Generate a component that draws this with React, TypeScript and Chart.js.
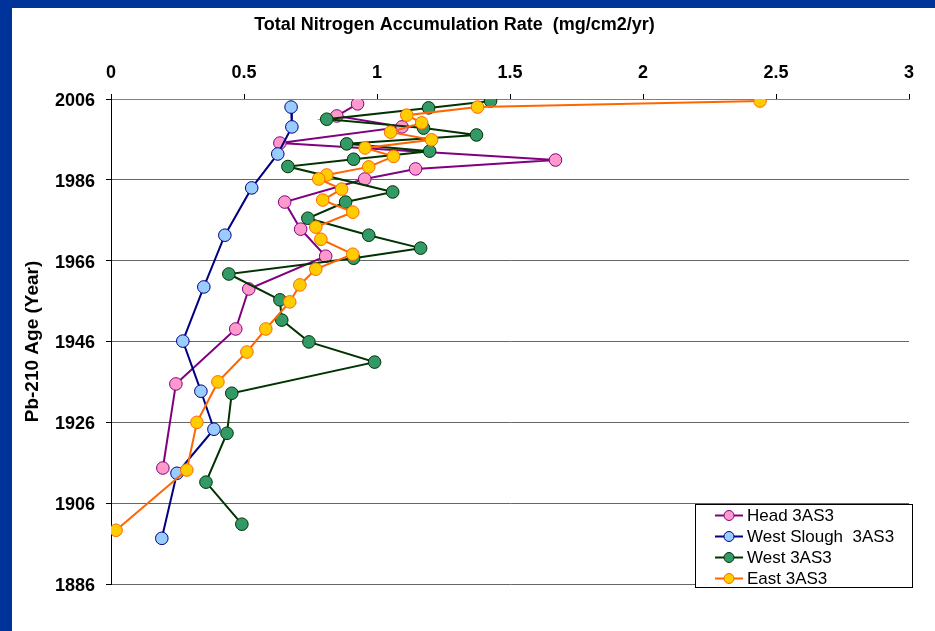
import React, { useEffect, useRef } from "react";
import { Chart, registerables } from "chart.js";

Chart.register(...registerables);

const chartTitle = "Total Nitrogen Accumulation Rate  (mg/cm2/yr)";
const yTitle = "Pb-210 Age (Year)";

const xTicks = [0, 0.5, 1, 1.5, 2, 2.5, 3];
const yTicks = [1886, 1906, 1926, 1946, 1966, 1986, 2006];

const seriesNames = ["Head 3AS3", "West Slough  3AS3", "West 3AS3", "East 3AS3"];

const headYears = [2004.8, 2001.8, 1999.1, 1995.1, 1990.9, 1988.7, 1986.2, 1980.5, 1973.8, 1967.1, 1959.0, 1949.1, 1935.5, 1914.7];
const headRates = [0.927, 0.849, 1.094, 0.635, 1.671, 1.145, 0.954, 0.653, 0.713, 0.807, 0.518, 0.469, 0.244, 0.195];

const sloughYears = [2004.0, 1999.1, 1992.4, 1984.0, 1972.3, 1959.5, 1946.1, 1933.7, 1924.3, 1913.4, 1897.3];
const sloughRates = [0.677, 0.68, 0.627, 0.529, 0.428, 0.349, 0.27, 0.338, 0.387, 0.248, 0.191];

const westYears = [2005.5, 2003.8, 2001.0, 1998.8, 1997.1, 1994.9, 1993.1, 1991.1, 1989.3, 1983.0, 1980.5, 1976.5, 1972.3, 1969.1, 1966.6, 1962.7, 1956.3, 1951.3, 1945.9, 1940.9, 1933.2, 1923.3, 1911.2, 1900.8];
const westRates = [1.427, 1.194, 0.811, 1.175, 1.374, 0.886, 1.198, 0.912, 0.665, 1.059, 0.882, 0.74, 0.969, 1.164, 0.912, 0.443, 0.635, 0.642, 0.744, 0.991, 0.454, 0.436, 0.357, 0.492];

const eastYears = [2005.5, 2004.0, 2002.0, 2000.1, 1997.8, 1995.9, 1993.9, 1991.8, 1989.2, 1987.2, 1986.2, 1983.7, 1981.0, 1978.0, 1974.3, 1971.3, 1967.6, 1963.9, 1960.0, 1955.8, 1949.1, 1943.4, 1936.0, 1926.0, 1914.2, 1899.3];
const eastRates = [2.44, 1.378, 1.112, 1.168, 1.051, 1.205, 0.955, 1.062, 0.969, 0.811, 0.781, 0.867, 0.796, 0.909, 0.77, 0.789, 0.909, 0.77, 0.71, 0.672, 0.582, 0.511, 0.402, 0.323, 0.285, 0.019];

const FONT = "'Liberation Sans', Arial, sans-serif";

const toPoints = (xs: number[], ys: number[]) => xs.map((x, i) => ({ x, y: ys[i] }));

const legendPlugin = {
  id: "boxLegend",
  afterDraw(chart: any) {
    const { ctx, chartArea } = chart;
    const left = chartArea.right - 214;
    const top = chartArea.bottom - 80;
    const w = 217;
    const h = 83;
    ctx.save();
    ctx.fillStyle = "#ffffff";
    ctx.fillRect(left, top, w, h);
    ctx.strokeStyle = "#000000";
    ctx.lineWidth = 1;
    ctx.strokeRect(left + 0.5, top + 0.5, w, h);
    ctx.font = `17px ${FONT}`;
    ctx.textBaseline = "middle";
    ctx.textAlign = "left";
    const dsList = chart.data.datasets;
    dsList.forEach((ds: any, i: number) => {
      const cy = top + 11.5 + i * 21;
      ctx.strokeStyle = ds.borderColor;
      ctx.lineWidth = 2;
      ctx.beginPath();
      ctx.moveTo(left + 20, cy);
      ctx.lineTo(left + 48, cy);
      ctx.stroke();
      ctx.beginPath();
      ctx.arc(left + 34, cy, 5, 0, Math.PI * 2);
      ctx.fillStyle = ds.pointBackgroundColor;
      ctx.fill();
      ctx.lineWidth = 1;
      ctx.strokeStyle = ds.pointBorderColor;
      ctx.stroke();
      ctx.fillStyle = "#000000";
      ctx.fillText(ds.label, left + 52, cy + 1);
    });
    ctx.restore();
  },
};

export default function App() {
  const canvasRef = useRef<HTMLCanvasElement | null>(null);

  useEffect(() => {
    if (!canvasRef.current) return;
    const mk = (label: string, xs: number[], ys: number[], line: string, fill: string, border: string, order: number) => ({
      label,
      data: toPoints(xs, ys),
      showLine: true,
      borderColor: line,
      borderWidth: 2,
      pointBackgroundColor: fill,
      pointBorderColor: border,
      pointBorderWidth: 1,
      pointRadius: 6.3,
      tension: 0,
      order,
    });
    const chart = new Chart(canvasRef.current, {
      type: "scatter",
      data: {
        datasets: [
          mk(seriesNames[0], headRates, headYears, "#800080", "#ff99cc", "#800080", 4),
          mk(seriesNames[1], sloughRates, sloughYears, "#000080", "#99ccff", "#000080", 3),
          mk(seriesNames[2], westRates, westYears, "#003300", "#339966", "#003300", 2),
          mk(seriesNames[3], eastRates, eastYears, "#ff6600", "#ffcc00", "#ff6600", 1),
        ],
      },
      plugins: [legendPlugin],
      options: {
        responsive: false,
        animation: false,
        layout: { padding: { left: 0, top: 0, right: 26, bottom: 47 } },
        plugins: {
          legend: { display: false },
          tooltip: { enabled: false },
          title: {
            display: true,
            text: chartTitle,
            color: "#000000",
            align: "center",
            font: { family: FONT, size: 18, weight: "bold" },
            padding: { top: 14, bottom: 10 },
          },
        },
        scales: {
          x: {
            type: "linear",
            position: "top",
            min: 0,
            max: 3,
            afterBuildTicks: (s: any) => {
              s.ticks = xTicks.map((v) => ({ value: v }));
            },
            afterFit: (s: any) => {
              s.height = 99 - 45.6;
            },
            ticks: {
              color: "#000000",
              font: { family: FONT, size: 18, weight: "bold" },
              padding: 10,
              maxRotation: 0,
              callback: (v: any) => String(v),
            },
            grid: { display: true, drawOnChartArea: false, drawTicks: true, tickLength: 5, tickColor: "#000000" },
            border: { display: true, color: "#808080", width: 1 },
          },
          y: {
            type: "linear",
            min: 1886,
            max: 2006,
            afterBuildTicks: (s: any) => {
              s.ticks = yTicks.map((v) => ({ value: v }));
            },
            afterFit: (s: any) => {
              s.width = 111;
            },
            ticks: {
              color: "#000000",
              font: { family: FONT, size: 18, weight: "bold" },
              padding: 11,
              labelOffset: 2,
              callback: (v: any) => String(v),
            },
            grid: { color: "#666666", lineWidth: 1, tickLength: 5, tickColor: "#000000" },
            border: { display: true, color: "#000000", width: 1 },
            title: {
              display: true,
              text: yTitle,
              color: "#000000",
              font: { family: FONT, size: 19, weight: "bold" },
              padding: { top: 21, bottom: 0 },
            },
          },
        },
      },
    });
    return () => chart.destroy();
  }, []);

  return (
    <div style={{ position: "fixed", left: 0, top: 0, width: 935, height: 631, background: "#003399", overflow: "hidden" }}>
      <div style={{ position: "absolute", left: 12, top: 8, right: 0, bottom: 0, background: "#ffffff" }} />
      <canvas ref={canvasRef} width={935} height={631} style={{ position: "absolute", left: 0, top: 0, display: "block" }} />
    </div>
  );
}
